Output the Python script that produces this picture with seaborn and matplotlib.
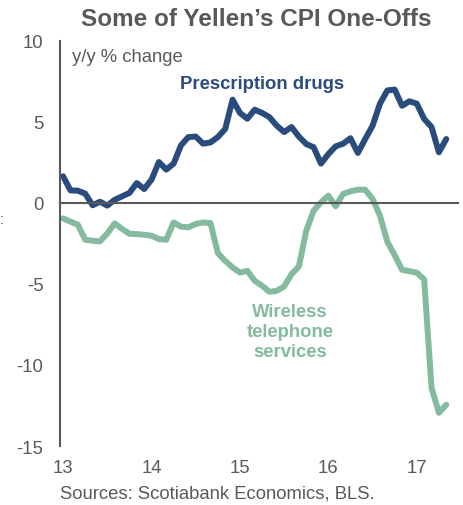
import numpy as np
import pandas as pd
import matplotlib
matplotlib.use('Agg')
import matplotlib.pyplot as plt
import matplotlib.transforms as mtransforms
import seaborn as sns

# monthly y/y % change, Jan 2013 - May 2017
months = pd.date_range('2013-01-01', periods=53, freq='MS')
drugs = [1.65, 0.78, 0.76, 0.58, -0.14, 0.08, -0.16, 0.2, 0.41, 0.62, 1.23, 0.86,
         1.44, 2.53, 2.06, 2.43, 3.56, 4.07, 4.1, 3.66, 3.74, 4.07, 4.57, 6.38,
         5.56, 5.2, 5.76, 5.56, 5.3, 4.77, 4.38, 4.69, 4.1, 3.64, 3.44, 2.43,
         3.02, 3.5, 3.66, 4.0, 3.09, 3.95, 4.77, 6.13, 6.95, 7.0, 6.0, 6.28,
         6.13, 5.19, 4.69, 3.13, 3.95]
wireless = [-0.95, -1.15, -1.34, -2.27, -2.33, -2.37, -1.88, -1.26, -1.6, -1.9, -1.92, -1.96,
            -2.02, -2.23, -2.27, -1.2, -1.46, -1.5, -1.3, -1.2, -1.24, -3.09, -3.57, -3.98,
            -4.29, -4.19, -4.8, -5.11, -5.48, -5.42, -5.15, -4.39, -3.92, -1.71, -0.47, 0.04,
            0.45, -0.2, 0.56, 0.72, 0.82, 0.82, 0.25, -0.78, -2.39, -3.22, -4.12, -4.21,
            -4.3, -4.72, -11.4, -12.95, -12.45]
year_ticks = [13, 14, 15, 16, 17]

df = pd.DataFrame({
    'yr': months.year - 2000 + (months.month - 1) / 12 + 0.035,
    'drugs': drugs,
    'wireless': wireless,
})

BLUE = '#2A4C7D'
GREEN = '#84BA9D'
GREY = '#595959'

sns.set_style('white')
plt.rcParams['font.family'] = ['Liberation Sans', 'DejaVu Sans']
plt.rcParams['axes.unicode_minus'] = False

fig = plt.figure(figsize=(4.63, 5.06), dpi=100)
ax = fig.add_axes([0.1296, 0.1166, 0.8594, 0.8004])

sns.lineplot(data=df, x='yr', y='drugs', ax=ax, color=BLUE, lw=4.3)
sns.lineplot(data=df, x='yr', y='wireless', ax=ax, color=GREEN, lw=4.3)

ax.set_xlim(13, 17.5)
ax.set_ylim(-15, 10)
ax.set_yticks([10, 5, 0, -5, -10, -15])
ax.set_xlabel('')
ax.set_ylabel('')

for s in ['top', 'right']:
    ax.spines[s].set_visible(False)
ax.spines['left'].set_color(GREY)
ax.spines['left'].set_linewidth(1.5)
ax.spines['bottom'].set_position(('data', 0))
ax.spines['bottom'].set_color(GREY)
ax.spines['bottom'].set_linewidth(1.5)

ax.tick_params(axis='y', direction='in', length=4, width=1.5, color=GREY,
               labelsize=13.3, labelcolor=GREY, pad=12)
ax.set_xticks(year_ticks)
ax.tick_params(axis='x', direction='out', length=4.5, width=1.5, color=GREY,
               labelbottom=False)

# year labels sit under the plot, not on the zero line
sec = ax.secondary_xaxis('bottom')
sec.set_xticks(year_ticks)
sec.spines['bottom'].set_visible(False)
sec.tick_params(axis='x', length=0, labelsize=13.3, labelcolor=GREY, pad=9)
shift = mtransforms.ScaledTranslation(3 / 100, 0, fig.dpi_scale_trans)
for lbl in sec.get_xticklabels():
    lbl.set_transform(lbl.get_transform() + shift)

ax.text(0.03, 0.982, 'y/y % change', transform=ax.transAxes, fontsize=13.3,
        color=GREY, ha='left', va='top')
ax.text(15.29, 7.4, 'Prescription drugs', fontsize=13.3, fontweight='bold',
        color=BLUE, ha='center', va='center')
ax.text(15.6, -7.95, 'Wireless\ntelephone\nservices', fontsize=13.3,
        fontweight='bold', color=GREEN, ha='center', va='center',
        linespacing=1.22)

fig.text(0.553, 0.961, 'Some of Yellen\u2019s CPI One-Offs', fontsize=17.5,
         fontweight='bold', color=GREY, ha='center', va='center')
fig.text(0.1296, 0.024, 'Sources: Scotiabank Economics, BLS.', fontsize=13.3,
         color=GREY, ha='left', va='center')
fig.text(0.0, 0.565, ':', fontsize=11, color=GREY, ha='left', va='center')

fig.savefig('out.png', dpi=100)
